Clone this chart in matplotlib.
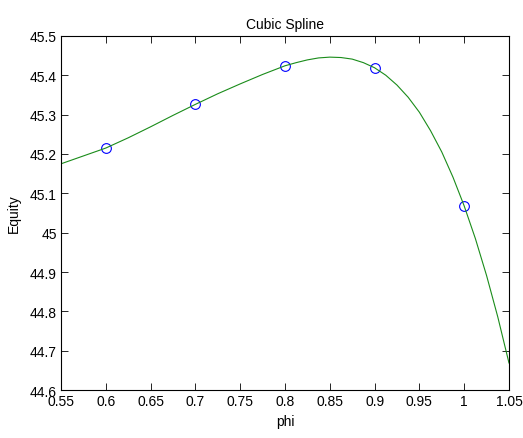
import numpy as np
from matplotlib import pyplot as plt

# knots (circles)
phi_pts = [0.6, 0.7, 0.8, 0.9, 1.0]
equity_pts = [45.215, 45.326, 45.424, 45.419, 45.068]

# spline curve, values
phi_curve = [0.55, 0.575, 0.6, 0.625, 0.65, 0.675, 0.7, 0.725, 0.75, 0.775,
             0.8, 0.8125, 0.825, 0.8375, 0.85, 0.8625, 0.875, 0.8875, 0.9,
             0.9125, 0.925, 0.9375, 0.95, 0.9625, 0.975, 0.9875, 1.0,
             1.0125, 1.025, 1.0375, 1.05]
equity_curve = [45.175, 45.195, 45.215, 45.241, 45.269, 45.298, 45.326, 45.353,
                45.378, 45.402, 45.424, 45.432, 45.439, 45.444, 45.446, 45.445,
                45.441, 45.432, 45.419, 45.400, 45.375, 45.344, 45.306, 45.259,
                45.205, 45.141, 45.068, 44.985, 44.891, 44.786, 44.669]

xticks = [0.55, 0.6, 0.65, 0.7, 0.75, 0.8, 0.85, 0.9, 0.95, 1.0, 1.05]
yticks = [44.6, 44.7, 44.8, 44.9, 45.0, 45.1, 45.2, 45.3, 45.4, 45.5]

plt.rcParams['font.family'] = ['Liberation Sans', 'DejaVu Sans']
plt.rcParams['font.size'] = 10

fig = plt.figure(figsize=(5.23, 4.39), dpi=100)
ax = fig.add_axes([0.1166, 0.109, 0.8566, 0.807])

ax.plot(phi_pts, equity_pts, 'o', mfc='none', mec='#0000ff', ms=7, mew=0.8)
ax.plot(phi_curve, equity_curve, '-', color=(0.1, 0.55, 0.1), lw=0.8)

ax.set_xlim(0.55, 1.05)
ax.set_ylim(44.6, 45.5)
ax.set_xticks(xticks)
ax.set_xticklabels(['%g' % t for t in xticks])
ax.set_yticks(yticks)
ax.set_yticklabels(['%g' % t for t in yticks])
ax.tick_params(direction='in', top=True, right=True, length=5, width=0.6,
               labelsize=10, pad=3)
for s in ax.spines.values():
    s.set_linewidth(0.8)

ax.set_xlabel('phi', labelpad=4)
ax.set_ylabel('Equity', labelpad=6)
ax.set_title('Cubic Spline', fontsize=10, pad=6)

plt.savefig('out.png', dpi=100)
